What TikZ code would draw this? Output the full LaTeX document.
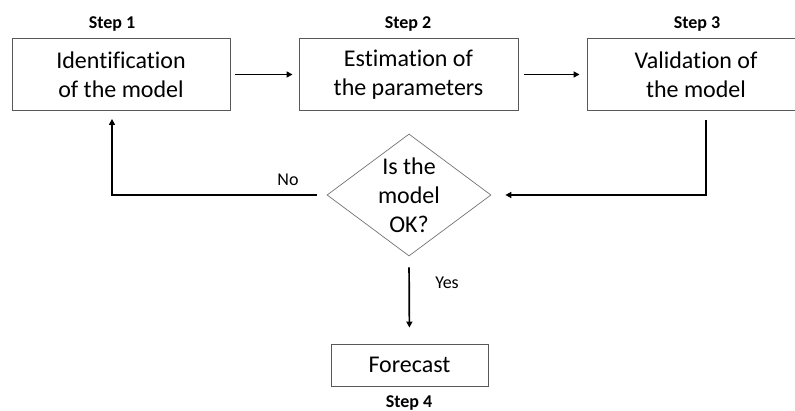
\documentclass[tikz,border=0pt]{standalone}
\usepackage{fontspec}
\setmainfont[Ligatures=NoCommon]{Carlito}
\usetikzlibrary{shapes.geometric,arrows.meta}
\begin{document}
\begin{tikzpicture}[x=1pt,y=1pt,
  box/.style={draw=black!65, line width=0.9pt, minimum width=218pt, minimum height=72pt,
    align=center, inner sep=0pt, font=\fontsize{24}{29}\selectfont},
  steplbl/.style={font=\fontsize{18}{20}\selectfont\bfseries, inner sep=0pt},
  small/.style={font=\fontsize{18}{20}\selectfont, inner sep=0pt},
  decide/.style={draw=black!55, line width=0.7pt, shape=diamond, minimum width=164pt,
    minimum height=122pt, inner sep=0pt},
  arr/.style={draw=black, line width=1.7pt, -{Triangle[length=6pt,width=6pt]}}
]
\useasboundingbox (0,0) rectangle (795,411);
\clip (0,0) rectangle (795,411);

\node[box] (b1) at (121,336.5) {Identification\\of the model};
\node[box, minimum width=219pt] (b2) at (408.5,336.5) {Estimation of\\the parameters};
\node[box] (b3) at (696,336.5) {Validation of\\the model};
\node[decide, label={[align=center, font=\fontsize{24}{29}\selectfont]center:Is the\\model\\OK?}] (d) at (409,216) {};
\node[box, minimum width=157pt, minimum height=42pt] (f) at (409.5,46) {Forecast};

\node[steplbl] (s1) at (112,387) {Step 1};
\node[steplbl] (s2) at (408,387) {Step 2};
\node[steplbl] (s3) at (697,387) {Step 3};
\node[steplbl] (s4) at (409,8) {Step 4};

\draw[arr, shorten <=5pt, shorten >=6pt] (b1.east) -- (b2.west);
\draw[arr, shorten <=6pt, shorten >=7pt] (b2.east) -- (b3.west);
\draw[arr] ([xshift=10pt,yshift=-9pt]b3.south) |- ([xshift=14pt]d.east);
\draw[arr] ([xshift=-10pt]d.west) -| ([xshift=-9pt,yshift=-8pt]b1.south);
\draw[arr, shorten <=11pt, shorten >=16pt] (d.south) -- (f.north);

\node[small] (no) at (288,231) {No};
\node[small] (yes) at (447,128) {Yes};
\end{tikzpicture}
\end{document}
